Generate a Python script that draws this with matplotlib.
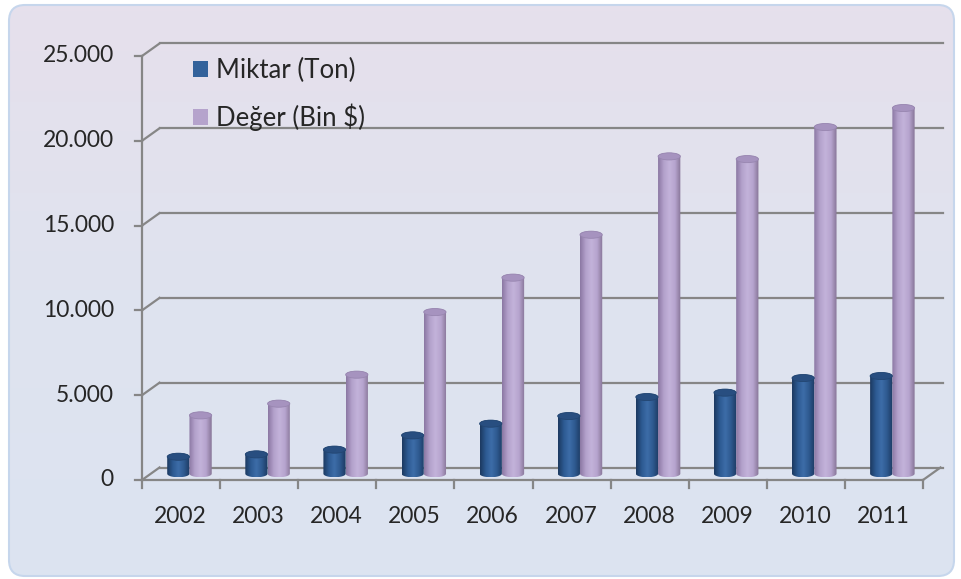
import numpy as np
import matplotlib
matplotlib.use("Agg")
import matplotlib.pyplot as plt
import matplotlib.transforms as mtransforms
from matplotlib.colors import LinearSegmentedColormap
from matplotlib.patches import PathPatch, Ellipse, FancyBboxPatch, Patch
from matplotlib.path import Path

years = ["2002", "2003", "2004", "2005", "2006", "2007", "2008", "2009", "2010", "2011"]
miktar = [1000, 1140, 1420, 2260, 2950, 3400, 4520, 4780, 5640, 5760]
deger = [3440, 4130, 5840, 9530, 11560, 14090, 18710, 18550, 20440, 21560]
yticks = [0, 5000, 10000, 15000, 20000, 25000]
labels = ["Miktar (Ton)", "Değer (Bin $)"]

plt.rcParams['font.family'] = ['Lato', 'DejaVu Sans']
W, H = 962, 579
fig = plt.figure(figsize=(W / 100, H / 100), dpi=100)
fig.patch.set_facecolor('white')

# background panel with soft gradient and rounded corners
bg = fig.add_axes([0, 0, 1, 1])
bg.set_xlim(0, W)
bg.set_ylim(H, 0)
bg.axis('off')
box = FancyBboxPatch((9, 5), 945, 571, boxstyle="round,pad=0,rounding_size=16",
                     fc='none', ec='#c6d6ec', lw=1.5, zorder=2)
bg.add_patch(box)
bgcm = LinearSegmentedColormap.from_list('bg', ['#e6e0ec', '#dfe3ef', '#dce4f1'])
im = bg.imshow(np.linspace(0, 1, 100).reshape(-1, 1), cmap=bgcm, extent=(9, 954, 576, 5),
               aspect='auto', zorder=1)
im.set_clip_path(box)

ax = fig.add_axes([142 / W, (H - 480) / H, 781 / W, 424 / H])
ax.set_xlim(0, 10)
ax.set_ylim(0, 25000)
ax.axis('off')
ax.patch.set_alpha(0)

back = ax.transData + mtransforms.ScaledTranslation(0.175, 0.125, fig.dpi_scale_trans)
mid = ax.transData + mtransforms.ScaledTranslation(0.09, 0.063, fig.dpi_scale_trans)
front = ax.transData

gc = '#868686'
glw = 1.6
# back wall gridlines + side wall diagonals
for v in yticks:
    ax.plot([0, 10.03], [v, v], color=gc, lw=glw, transform=back, clip_on=False, zorder=1)
    p0 = front.transform((0, v))
    p1 = back.transform((0, v))
    ax.plot([p0[0], p1[0]], [p0[1], p1[1]], color=gc, lw=glw, transform=None, clip_on=False, zorder=1)
    ax.plot([-0.09, 0], [v, v], color=gc, lw=glw, clip_on=False, zorder=1)
    ax.text(-0.36, v, f"{v:,.0f}".replace(',', '.'), ha='right', va='center',
            fontsize=16.5, color='#262626')

# front edges of the floor and the side wall
ax.plot([0, 0], [0, 25000], color=gc, lw=glw, clip_on=False, zorder=1)
ax.plot([0, 10], [0, 0], color=gc, lw=glw, clip_on=False, zorder=1)
p0 = front.transform((10, 0))
p1 = back.transform((10, 0))
ax.plot([p0[0], p1[0]], [p0[1], p1[1]], color=gc, lw=glw, transform=None, clip_on=False, zorder=1)
xt = mtransforms.blended_transform_factory(ax.transData, ax.transAxes)
for i in range(11):
    ax.plot([i, i], [0, -0.018], color=gc, lw=glw, transform=xt, clip_on=False, zorder=1)
for i, y in enumerate(years):
    ax.text(i + 0.49, -0.085, y, ha='center', va='center', fontsize=16.5,
            color='#262626', transform=xt)

blue_cm = LinearSegmentedColormap.from_list('b', ['#1c3960', '#2d5a92', '#3d6da8', '#2e598f', '#1d3a62'])
lav_cm = LinearSegmentedColormap.from_list('l', ['#8b78a3', '#b3a1cb', '#c3b3da', '#b6a4ce', '#877597'])
ry = 210.0
bw = 0.285


def cylinder(xc, h, cmap, topc, edgec):
    t = np.linspace(np.pi, 2 * np.pi, 40)
    bot = np.column_stack([xc + bw / 2 * np.cos(t), ry * np.sin(t)])
    t2 = np.linspace(0, np.pi, 40)
    top = np.column_stack([xc + bw / 2 * np.cos(t2), h + ry * np.sin(t2)])
    verts = np.vstack([bot, top, bot[:1]])
    clip = PathPatch(Path(verts), transform=mid, fc='none', ec='none')
    ax.add_patch(clip)
    img = ax.imshow(np.linspace(0, 1, 64).reshape(1, -1), cmap=cmap,
                    extent=(xc - bw / 2, xc + bw / 2, -ry, h + ry), aspect='auto',
                    transform=mid, zorder=3, interpolation='bilinear')
    img.set_clip_path(clip)
    ax.add_patch(Ellipse((xc, h), bw, 2 * ry, transform=mid, fc=topc, ec=edgec,
                         lw=0.6, zorder=4, clip_on=False))


for i in range(len(years)):
    cylinder(i + 0.35, miktar[i], blue_cm, '#284e80', '#234672')
    cylinder(i + 0.635, deger[i], lav_cm, '#a693bf', '#9886b0')

ax.set_xlim(0, 10)
ax.set_ylim(0, 25000)

handles = [Patch(fc='#33629b', ec='none'), Patch(fc='#b5a3cc', ec='none')]
fig.legend(handles, labels, loc='upper left', bbox_to_anchor=(193 / W, 1 - 58 / H),
           frameon=False, fontsize=18.5, handlelength=0.6, handleheight=0.6,
           handletextpad=0.3, labelspacing=0.8, labelcolor='#262626',
           borderpad=0, borderaxespad=0)

fig.savefig('out.png', dpi=100)
